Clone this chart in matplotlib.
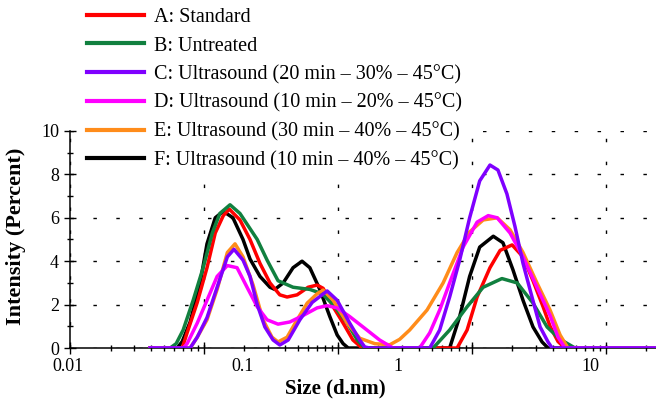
import matplotlib
matplotlib.use("Agg")
import matplotlib.pyplot as plt
from matplotlib.ticker import NullFormatter

plt.rcParams['font.family'] = 'serif'
plt.rcParams['font.serif'] = ['Liberation Serif', 'DejaVu Serif']

# size (d.nm) / intensity (%)
size_a = [0.0395, 0.0686, 0.0746, 0.0888, 0.105, 0.121, 0.139, 0.154, 0.185, 0.220, 0.261, 0.310, 0.367,
          0.416, 0.494, 0.597, 0.697, 0.773, 0.918, 1.09, 1.29, 1.51, 7.73, 9.18, 10.9, 13.6, 16.2, 19.9,
          24.0, 28.5, 33.9, 38.2, 43.8, 49.4, 236]
int_a = [0, 0, 0.7, 2.1, 3.7, 5.3, 6.1, 6.4, 5.9, 5.0, 3.9, 3.0, 2.45,
         2.35, 2.45, 2.8, 2.9, 2.75, 1.9, 1.15, 0.37, 0, 0, 0.83, 2.35, 3.7, 4.5, 4.75,
         4.2, 3.1, 1.9, 1.0, 0.3, 0, 0]

size_b = [0.0395, 0.0557, 0.0618, 0.0697, 0.0828, 0.0983, 0.115, 0.131, 0.156, 0.185, 0.220, 0.249, 0.295,
          0.356, 0.461, 0.615, 0.760, 0.918, 1.17, 1.39, 1.58, 5.12, 6.80, 9.18, 12.1, 16.7, 21.7, 28.5,
          36.3, 45.4, 58.7, 236]
int_b = [0, 0, 0.2, 0.83, 2.2, 3.7, 5.3, 6.2, 6.6, 6.2, 5.5, 5.0, 4.05,
         3.1, 2.8, 2.7, 2.5, 2.0, 1.15, 0.37, 0, 0, 0.83, 1.9, 2.8, 3.2, 3.0, 2.07,
         0.97, 0.4, 0, 0]

size_c = [0.0395, 0.0786, 0.0888, 0.105, 0.125, 0.149, 0.167, 0.195, 0.220, 0.249, 0.284, 0.327, 0.367,
          0.424, 0.518, 0.640, 0.828, 0.984, 1.22, 1.45, 1.58, 1.72, 4.83, 5.73, 6.80, 8.08, 9.59, 11.4,
          13.6, 15.6, 18.2, 20.9, 24.0, 28.0, 32.2, 36.9, 39.6, 236]
int_c = [0, 0, 0.5, 1.4, 2.8, 4.2, 4.55, 4.05, 3.3, 2.0, 0.97, 0.37, 0.14,
         0.37, 1.3, 2.1, 2.63, 2.2, 1.15, 0.37, 0.05, 0, 0, 0.83, 2.35, 4.05, 6.0, 7.7,
         8.43, 8.2, 7.1, 5.6, 3.9, 2.35, 0.97, 0.28, 0, 0]

size_d = [0.0395, 0.0697, 0.0746, 0.0888, 0.105, 0.125, 0.149, 0.176, 0.209, 0.249, 0.295, 0.356, 0.436,
          0.548, 0.697, 0.828, 0.984, 1.22, 1.64, 2.04, 2.57, 4.06, 4.83, 5.73, 6.80, 8.57, 10.9, 13.2,
          15.4, 19.2, 24.0, 30.5, 38.2, 43.8, 49.4, 236]
int_d = [0, 0, 0.2, 1.15, 2.2, 3.3, 3.8, 3.7, 2.8, 1.9, 1.3, 1.1, 1.2,
         1.5, 1.85, 1.95, 1.85, 1.45, 0.83, 0.37, 0, 0, 0.7, 1.75, 3.0, 4.65, 5.8, 6.1,
         6.0, 5.3, 4.2, 2.8, 1.5, 0.5, 0, 0]

size_e = [0.0395, 0.0786, 0.0888, 0.105, 0.125, 0.149, 0.170, 0.195, 0.232, 0.275, 0.321, 0.356, 0.416,
          0.494, 0.588, 0.697, 0.773, 0.918, 1.17, 1.45, 1.88, 2.43, 2.88, 3.42, 4.61, 6.08, 7.73, 9.59,
          12.1, 15.4, 19.2, 24.0, 30.5, 38.2, 45.4, 52.0, 236]
int_e = [0, 0, 0.5, 1.3, 2.7, 4.4, 4.8, 4.2, 2.9, 1.3, 0.5, 0.28, 0.5,
         1.3, 2.07, 2.5, 2.67, 2.2, 1.15, 0.45, 0.2, 0.15, 0.4, 0.83, 1.75, 3.0, 4.4, 5.35,
         5.9, 6.0, 5.45, 4.4, 3.0, 1.75, 0.6, 0, 0]

size_f = [0.0395, 0.0629, 0.0686, 0.0786, 0.0934, 0.105, 0.121, 0.139, 0.164, 0.195, 0.220, 0.261, 0.310,
          0.337, 0.389, 0.461, 0.538, 0.615, 0.730, 0.867, 0.984, 1.09, 1.19, 6.80, 8.08, 9.59, 11.4,
          14.4, 17.0, 20.2, 24.0, 28.5, 33.3, 36.9, 236]
int_f = [0, 0, 0.3, 1.2, 3.0, 4.8, 6.0, 6.3, 6.0, 5.0, 4.1, 3.3, 2.8,
         2.7, 3.0, 3.7, 4.0, 3.7, 2.7, 1.45, 0.6, 0.2, 0, 0, 1.45, 3.3, 4.65,
         5.15, 4.85, 3.6, 2.2, 0.97, 0.28, 0, 0]

labels = ["A: Standard", "B: Untreated",
          "C: Ultrasound (20 min \u2013 30% \u2013 45\u00b0C)",
          "D: Ultrasound (10 min \u2013 20% \u2013 45\u00b0C)",
          "E: Ultrasound (30 min \u2013 40% \u2013 45\u00b0C)",
          "F: Ultrasound (10 min \u2013 40% \u2013 45\u00b0C)"]
colors = ["#ff0000", "#11803f", "#7f00ff", "#ff00ff", "#ff8c1a", "#000000"]
zorders = [3, 4, 7, 6, 5, 2]
sizes = [size_a, size_b, size_c, size_d, size_e, size_f]
values = [int_a, int_b, int_c, int_d, int_e, int_f]

# tick labels as printed on the original (not aligned with the decade ticks)
xtick_text = ["0.01", "0.1", "1", "10"]
xtick_text_pos = [0.0097, 0.195, 2.8, 76]

fig = plt.figure(figsize=(6.56, 4.08), dpi=100)
ax = fig.add_axes([0.107, 0.147, 0.893, 0.532])

lines = []
for x, y, c, z, lab in zip(sizes, values, colors, zorders, labels):
    ln, = ax.plot(x, y, color=c, lw=2.5, zorder=z, label=lab, solid_joinstyle='round')
    lines.append(ln)

ax.set_xscale('log')
ax.set_xlim(0.01, 236)
ax.set_ylim(0, 10)
ax.set_xticks([0.01, 0.1, 1, 10, 100])
ax.set_xticklabels([])
ax.xaxis.set_minor_formatter(NullFormatter())
ax.set_yticks([0, 2, 4, 6, 8, 10])
ax.set_yticks([1, 3, 5, 7, 9], minor=True)
ax.tick_params(axis='both', which='major', direction='inout', length=8, width=1, labelsize=13)
ax.tick_params(axis='both', which='minor', direction='inout', length=5, width=1)
ax.tick_params(axis='y', pad=4)
for s in ['top', 'right']:
    ax.spines[s].set_visible(False)
for s in ['left', 'bottom']:
    ax.spines[s].set_linewidth(1.1)

ax.grid(True, which='major', color='k', linestyle=(0, (2.5, 14)), lw=1.0)

for lbl, pos in zip(xtick_text, xtick_text_pos):
    ax.text(pos, -0.045, lbl, transform=ax.get_xaxis_transform(), ha='center', va='top', fontsize=13)

ax.set_xlabel("Size (d.nm)", fontsize=15, fontweight='bold')
ax.xaxis.set_label_coords(0.452, -0.14)
ax.set_ylabel("Intensity (Percent)", fontsize=16, fontweight='bold')
ax.yaxis.set_label_coords(-0.075, 0.516)

leg = fig.legend(handles=lines, loc='upper left', bbox_to_anchor=(0.121, 1.0), fontsize=14.5,
                 frameon=True, facecolor='white', edgecolor='none', framealpha=1, fancybox=False,
                 handlelength=2.8, handletextpad=0.5, labelspacing=0.46, borderpad=0.4, borderaxespad=0)
for h in leg.get_lines():
    h.set_linewidth(3)

plt.savefig("out.png", dpi=100)
